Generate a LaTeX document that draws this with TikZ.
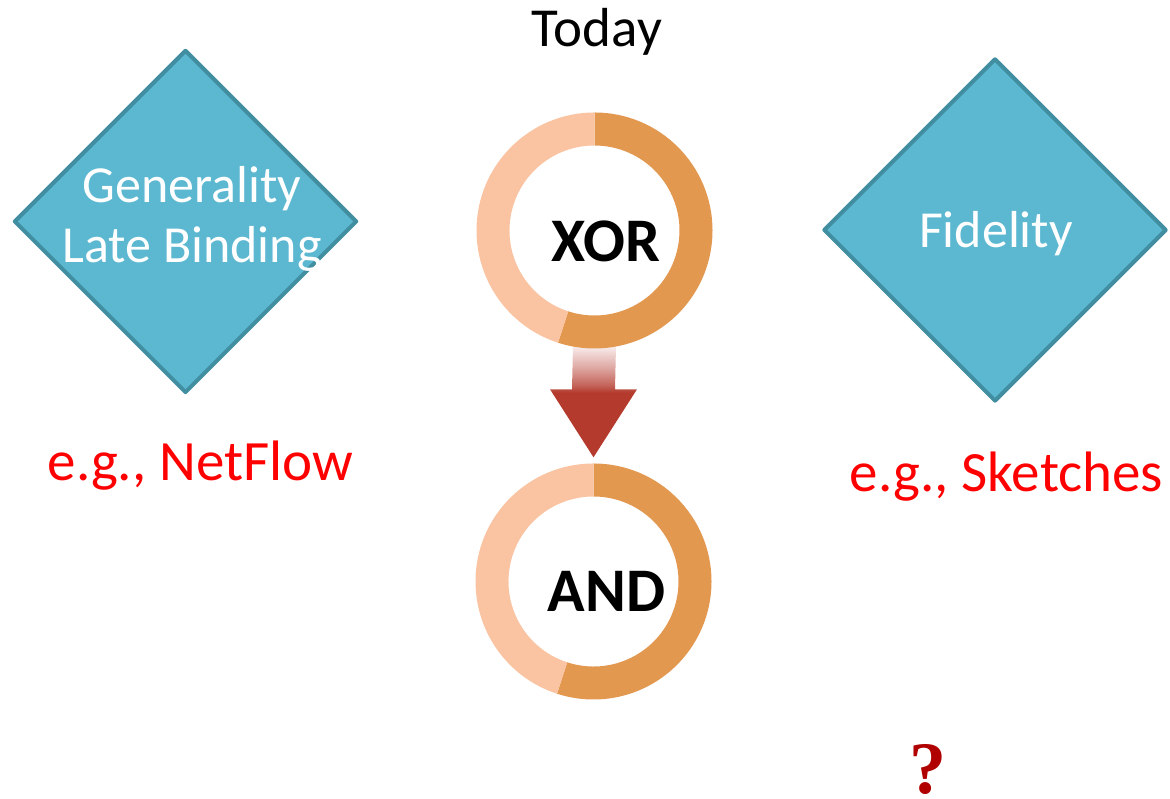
\documentclass[tikz,border=0pt]{standalone}
\usepackage{fontspec}
\setmainfont{Carlito}
\newfontfamily\qfont{Liberation Serif}
\usetikzlibrary{shapes.geometric,calc}

\definecolor{diafill}{RGB}{92,184,209}
\definecolor{diaedge}{RGB}{64,142,160}
\definecolor{ringlight}{RGB}{250,196,162}
\definecolor{ringdark}{RGB}{227,152,80}
\definecolor{egred}{RGB}{255,0,0}
\definecolor{qred}{RGB}{176,0,0}
\definecolor{arrowred}{RGB}{180,58,45}
\definecolor{arrowmidA}{RGB}{195,97,87}
\definecolor{arrowmidB}{RGB}{221,166,161}
\definecolor{arrowpale}{RGB}{249,239,238}

% vertical fade for the block arrow: solid head, shaft fading to white
\pgfdeclareverticalshading{arrowfade}{100bp}{%
  color(0bp)=(arrowred); color(25bp)=(arrowred); color(54bp)=(arrowred);
  color(57bp)=(arrowmidA); color(65bp)=(arrowmidB); color(75bp)=(arrowpale);
  color(100bp)=(arrowpale)}

\newcommand\donutring[1]{%
  \fill[ringdark] ($(#1)+(90:118)$) arc[start angle=90,end angle=-108,radius=118]
    -- ($(#1)+(-108:85)$) arc[start angle=-108,end angle=90,radius=85] -- cycle;
  \fill[ringlight] ($(#1)+(90:118)$) arc[start angle=90,end angle=252,radius=118]
    -- ($(#1)+(252:85)$) arc[start angle=252,end angle=90,radius=85] -- cycle;}

\tikzset{
  diabox/.style={diamond,aspect=1,minimum width=343,minimum height=343,inner sep=0,
    fill=diafill,draw=diaedge,line width=4,line join=round},
  diatext/.style={anchor=base,inner sep=0,text=white,font=\fontsize{52}{60}\selectfont},
  ringspot/.style={circle,minimum size=236,inner sep=0},
  optext/.style={anchor=base,inner sep=0,font=\bfseries\fontsize{62}{70}\selectfont},
  egtext/.style={anchor=base,inner sep=0,text=egred,font=\fontsize{57}{68}\selectfont},
  titletext/.style={anchor=base,inner sep=0,font=\fontsize{55}{66}\selectfont},
}

\begin{document}
\begin{tikzpicture}[x=1pt,y=1pt]
\useasboundingbox (0,0) rectangle (1170,799);
\fill[white] (0,0) rectangle (1170,799);

% title
\node[titletext] (today) at (597,752) {Today};

% left and right diamonds
\node[diabox] (gen) at (185.5,577.5) {};
\node[diatext] (gen1) at ($(gen.center)+(6.5,18.5)$) {Generality};
\node[diatext] (gen2) at ($(gen.center)+(6.5,-41.5)$) {Late Binding};
\node[diabox] (fid) at (995,569) {};
\node[diatext] (fidt) at ($(fid.center)+(1,-18)$) {Fidelity};

% examples
\node[egtext] (egnet) at (200.5,318) {e.g., NetFlow};
\node[egtext] (egsk) at (1006.5,307) {e.g., Sketches};

% ring positions
\node[ringspot] (xor) at (594.5,568.5) {};
\node[ringspot] (and) at (593.5,217.5) {};

% block arrow from XOR down to AND
\coordinate (atop) at ($(xor.south)+(0,3)$);
\coordinate (atip) at ($(and.north)+(0,6)$);
\path[shading=arrowfade]
  ($(atop)+(-21.5,0)$) -- ($(atop)+(21.5,0)$) -- ($(atip)+(21.5,68)$)
  -- ($(atip)+(43.5,68)$) -- (atip) -- ($(atip)+(-43.5,68)$)
  -- ($(atip)+(-21.5,68)$) -- cycle;

% rings
\donutring{xor}
\donutring{and}
\node[optext] (xort) at ($(xor.center)+(11.5,-31.5)$) {XOR};
\node[optext] (andt) at ($(and.center)+(13,-30.5)$) {AND};

% open question
\node[anchor=base,inner sep=0,text=qred,font=\qfont\bfseries\fontsize{74}{80}\selectfont]
  (qmark) at (928,5) {?};
\end{tikzpicture}
\end{document}
